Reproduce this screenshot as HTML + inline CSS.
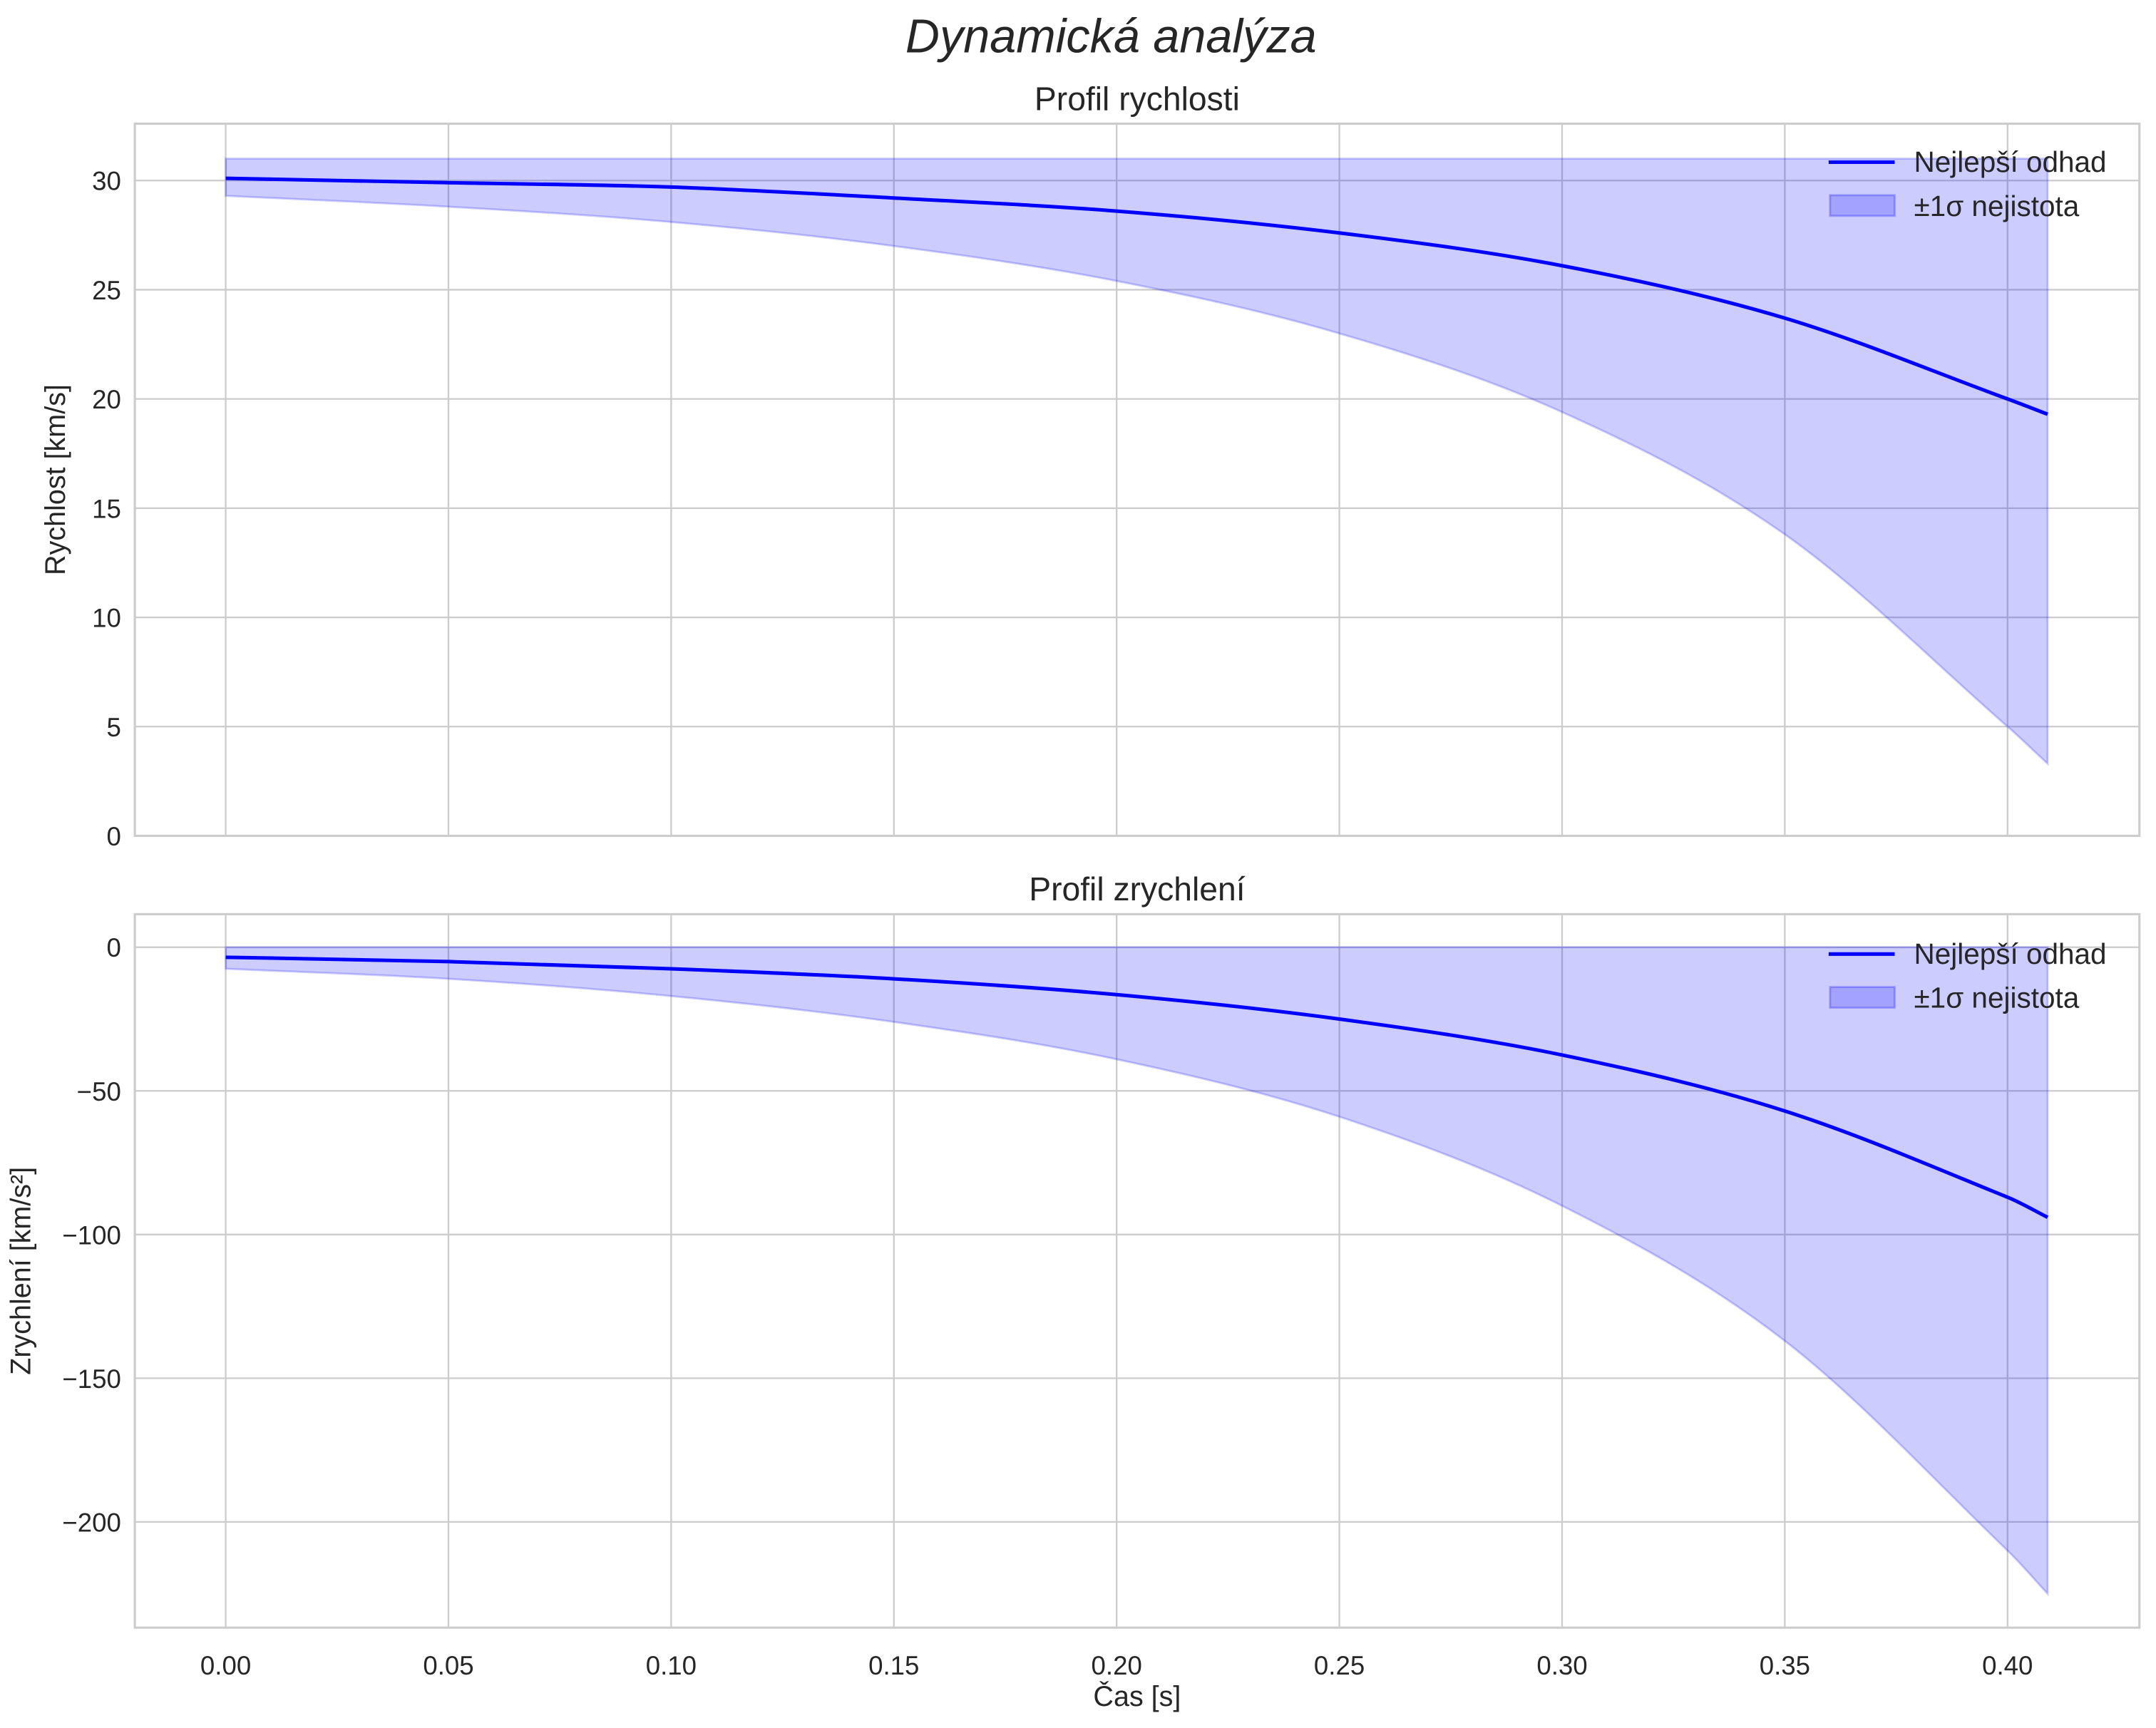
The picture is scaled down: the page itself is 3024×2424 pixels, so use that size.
<!DOCTYPE html>
<html><head><meta charset="utf-8"><style>
html,body{margin:0;padding:0;background:#fff}
svg{display:block}
text{font-family:"Liberation Sans",sans-serif;fill:#262626}
</style></head><body>
<svg id="fig" width="3024" height="2424" viewBox="0 0 1568 1257" xmlns="http://www.w3.org/2000/svg">
<text x="808" y="38" font-size="34.5" font-style="italic" text-anchor="middle">Dynamická analýza</text>
<g id="top"></g>
<g id="bot"></g>
</svg>
<script>
const times=[0,0.05,0.1,0.15,0.2,0.25,0.3,0.35,0.4,0.409];
const velBest=[30.1,29.9,29.7,29.2,28.6,27.6,26.1,23.7,20.0,19.3];
const velUpper=[31.0,31.0,31.0,31.0,31.0,31.0,31.0,31.0,31.0,31.0];
const velLower=[29.3,28.8,28.1,27.0,25.4,23.0,19.4,13.8,5.0,3.3];
const accBest=[-3.5,-5,-7.5,-11,-16.5,-25,-37.5,-57,-87,-94];
const accUpper=[0,0,0,0,0,0,0,0,0,0];
const accLower=[-7.5,-11,-17,-26,-39,-59,-90,-137,-210,-225];
const xTicks=[0,0.05,0.1,0.15,0.2,0.25,0.3,0.35,0.4];
const xTickLabels=["0.00","0.05","0.10","0.15","0.20","0.25","0.30","0.35","0.40"];
const velTicks=[0,5,10,15,20,25,30];
const accTicks=[0,-50,-100,-150,-200];
const accTickLabels=["0","\u221250","\u2212100","\u2212150","\u2212200"];

const NS="http://www.w3.org/2000/svg";
function mk(parent,tag,attrs){const e=document.createElementNS(NS,tag);for(const k in attrs)e.setAttribute(k,attrs[k]);parent.appendChild(e);return e;}
const L=98,R=1556;
const xs=t=>L+(t-(-0.0204))/(0.4296+0.0204)*(R-L);

function smooth(P,start){
  let d=(start?'M':'L')+P[0][0]+','+P[0][1];
  for(let i=0;i<P.length-1;i++){
    const p0=P[Math.max(0,i-1)],p1=P[i],p2=P[i+1],p3=P[Math.min(P.length-1,i+2)];
    const h1=(p2[0]-p1[0]);
    const s0=(p2[1]-p0[1])/((p2[0]-p0[0])||1), s1=(p3[1]-p1[1])/((p3[0]-p1[0])||1);
    const c1=[p1[0]+h1/3,p1[1]+s0*h1/3];
    const c2=[p2[0]-h1/3,p2[1]-s1*h1/3];
    d+='C'+c1[0]+','+c1[1]+' '+c2[0]+','+c2[1]+' '+p2[0]+','+p2[1];
  }
  return d;
}

function panel(g,top,bot,ymin,ymax,ticks,tickLabels,best,upper,lower,title,ylabel,ylabelX,showX,legY,name){
  const ys=v=>bot-(v-ymin)/(ymax-ymin)*(bot-top);
  const frame=mk(g,'rect',{x:L,y:top,width:R-L,height:bot-top,fill:'#fff'});
  
  
  xTicks.forEach((t,i)=>{
    const l=mk(g,'line',{x1:xs(t),x2:xs(t),y1:top,y2:bot,stroke:'#cccccc','stroke-width':1.2});
    
    
    if(showX){
      const tx=mk(g,'text',{x:xs(t),y:bot+34,'font-size':19,'text-anchor':'middle'});
      tx.textContent=xTickLabels[i];
      
      
    }
  });
  ticks.forEach((v,i)=>{
    const l=mk(g,'line',{x1:L,x2:R,y1:ys(v),y2:ys(v),stroke:'#cccccc','stroke-width':1.2});
    
    
    const tx=mk(g,'text',{x:L-10,y:ys(v)+7,'font-size':19,'text-anchor':'end'});
    tx.textContent=tickLabels[i];
    
    
  });
  const U=times.map((t,i)=>[xs(t),ys(upper[i])]);
  const Lo=times.map((t,i)=>[xs(t),ys(lower[i])]).reverse();
  const d=smooth(U,true)+smooth(Lo,false)+'Z';
  const band=mk(g,'path',{d:d,fill:'rgba(0,0,255,0.2)',stroke:'rgba(0,0,255,0.2)','stroke-width':1.5});
  
  
  const B=times.map((t,i)=>[xs(t),ys(best[i])]);
  const line=mk(g,'path',{d:smooth(B,true),fill:'none',stroke:'#0000ff','stroke-width':2.6,'stroke-linejoin':'round'});
  
  
  const border=mk(g,'rect',{x:L,y:top,width:R-L,height:bot-top,fill:'none',stroke:'#cccccc','stroke-width':1.6});
  
  
  const tt=mk(g,'text',{x:(L+R)/2,y:top-10,'font-size':24,'text-anchor':'middle'});
  tt.textContent=title;
  
  
  const yl=mk(g,'text',{x:ylabelX,y:(top+bot)/2,'font-size':20.5,'text-anchor':'middle',transform:'rotate(-90 '+ylabelX+' '+((top+bot)/2)+')'});
  yl.textContent=ylabel;
  
  
  const lg=mk(g,'g',{});
  
  
  const ll=mk(lg,'line',{x1:1330,x2:1378,y1:legY,y2:legY,stroke:'#0000ff','stroke-width':2.6});
  
  
  const t1=mk(lg,'text',{x:1392,y:legY+7,'font-size':21});
  t1.textContent='Nejlepší odhad';
  
  
  const pr=mk(lg,'rect',{x:1331,y:legY+24,width:47,height:15,fill:'rgba(0,0,255,0.2)',stroke:'rgba(0,0,255,0.25)','stroke-width':1.5});
  
  
  const t2=mk(lg,'text',{x:1392,y:legY+39,'font-size':21});
  t2.textContent='±1σ nejistota';
  
  
}
panel(document.getElementById('top'),90,608,0,32.6,velTicks,velTicks.map(String),velBest,velUpper,velLower,'Profil rychlosti','Rychlost [km/s]',47,false,118,'velocity');
panel(document.getElementById('bot'),665,1184,-236.8,11.5,accTicks,accTickLabels,accBest,accUpper,accLower,'Profil zrychlení','Zrychlení [km/s²]',22,true,694,'acceleration');
const svg=document.getElementById('fig');
const xl=mk(svg,'text',{x:(L+R)/2,y:1241,'font-size':20.5,'text-anchor':'middle'});
xl.textContent='Čas [s]';


</script>
</body></html>
